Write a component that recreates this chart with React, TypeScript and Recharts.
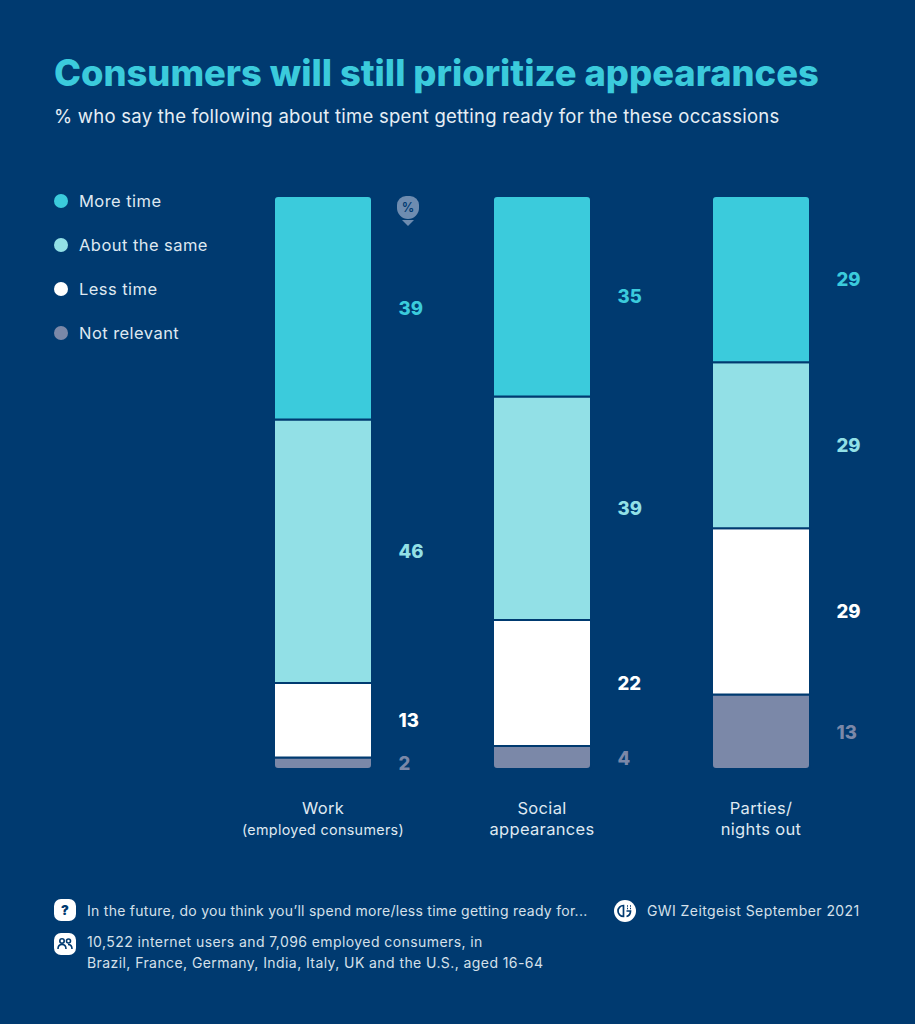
import React from "react";
import { BarChart, Bar, XAxis, YAxis, LabelList, Legend } from "recharts";

const BG = "#003a70";
const categories = ["Work", "Social", "Parties"];
const tickLines: Record<string, { text: string; size: number }[]> = {
  Work: [{ text: "Work", size: 16.5 }, { text: "(employed consumers)", size: 14.3 }],
  Social: [{ text: "Social", size: 16.5 }, { text: "appearances", size: 16.5 }],
  Parties: [{ text: "Parties/", size: 16.5 }, { text: "nights out", size: 16.5 }],
};
const moreTime = [39, 35, 29];
const aboutSame = [46, 39, 29];
const lessTime = [13, 22, 29];
const notRelevant = [2, 4, 13];
const seriesNames = ["More time", "About the same", "Less time", "Not relevant"];
const seriesColors = ["#3bcbdc", "#92e0e6", "#ffffff", "#7b88a8"];
const data = categories.map((c, i) => ({
  name: c,
  more: moreTime[i],
  same: aboutSame[i],
  less: lessTime[i],
  none: notRelevant[i],
}));

const FONT = "Inter, 'Noto Sans', sans-serif";

const ValueLabel = (color: string) => (props: any) => {
  const { x, y, width, height, value } = props;
  return (
    <text x={x + width + 26.5} y={y + height / 2 + 7} fill={color} fontFamily={FONT} fontWeight={800} fontSize={18.5}>
      {value}
    </text>
  );
};

const Tick = (props: any) => {
  const { x, y, payload } = props;
  const lines = tickLines[payload.value] || [];
  return (
    <g>
      {lines.map((l, i) => (
        <text key={i} x={x + 0.5} y={y + 37 + i * 21} textAnchor="middle" fill="#dfe8f1" fontFamily={FONT} fontSize={l.size} letterSpacing={0.33}>
          {l.text}
        </text>
      ))}
    </g>
  );
};

const LegendBox = () => (
  <div style={{ fontFamily: FONT }}>
    {seriesNames.map((n, i) => (
      <div key={n} style={{ position: "absolute", left: 0, top: i * 44, height: 20, display: "flex", alignItems: "center", whiteSpace: "nowrap" }}>
        <span style={{ width: 14, height: 14, borderRadius: 7, background: seriesColors[i], marginRight: 11, display: "inline-block" }} />
        <span style={{ color: "#dfe8f1", fontSize: 16.5, letterSpacing: 0.45 }}>{n}</span>
      </div>
    ))}
  </div>
);

const Foot = ({ left, top, children, spacing = 0.42 }: any) => (
  <div style={{ position: "absolute", left, top, color: "#d5e0ea", fontFamily: FONT, fontSize: 14, letterSpacing: spacing, lineHeight: "21px", whiteSpace: "nowrap" }}>
    {children}
  </div>
);

const Badge = ({ left, top, round, children }: any) => (
  <div style={{ position: "absolute", left, top, width: 22, height: 22, borderRadius: round ? 11 : 7, background: "#fff", color: BG, display: "flex", alignItems: "center", justifyContent: "center", fontFamily: FONT, fontWeight: 900, fontSize: 13 }}>
    {children}
  </div>
);

export default function App() {
  return (
    <div style={{ position: "absolute", left: 0, top: 0, width: 915, height: 1024, background: BG, overflow: "hidden" }}>
      <div style={{ position: "absolute", left: 54, top: 50, color: "#3bcbdc", fontFamily: FONT, fontWeight: 800, fontSize: 36.3, lineHeight: "46px", whiteSpace: "nowrap" }}>
        Consumers will still prioritize appearances
      </div>
      <div style={{ position: "absolute", left: 54, top: 104, color: "#e6eef5", fontFamily: FONT, fontSize: 18.5, letterSpacing: 0.25, lineHeight: "24px", whiteSpace: "nowrap" }}>
        % who say the following about time spent getting ready for the these occassions
      </div>

      <div style={{ position: "absolute", left: 0, top: 0 }}>
        <BarChart width={915} height={1024} data={data} barSize={98} margin={{ top: 196, bottom: 35, left: 213, right: 45 }}>
          <XAxis dataKey="name" height={60} axisLine={false} tickLine={false} interval={0} tick={<Tick />} />
          <YAxis hide domain={[0, 100]} />
          <Legend content={<LegendBox />} wrapperStyle={{ left: 54, top: 191, width: 180, height: 160, bottom: "auto" }} />
          <Bar dataKey="none" name={seriesNames[3]} stackId="a" fill={seriesColors[3]} stroke={BG} strokeWidth={2} radius={[0, 0, 4, 4]} isAnimationActive={false}>
            <LabelList dataKey="none" content={ValueLabel(seriesColors[3])} />
          </Bar>
          <Bar dataKey="less" name={seriesNames[2]} stackId="a" fill={seriesColors[2]} stroke={BG} strokeWidth={2} isAnimationActive={false}>
            <LabelList dataKey="less" content={ValueLabel(seriesColors[2])} />
          </Bar>
          <Bar dataKey="same" name={seriesNames[1]} stackId="a" fill={seriesColors[1]} stroke={BG} strokeWidth={2} isAnimationActive={false}>
            <LabelList dataKey="same" content={ValueLabel(seriesColors[1])} />
          </Bar>
          <Bar dataKey="more" name={seriesNames[0]} stackId="a" fill={seriesColors[0]} stroke={BG} strokeWidth={2} radius={[4, 4, 0, 0]} isAnimationActive={false}>
            <LabelList dataKey="more" content={ValueLabel(seriesColors[0])} />
          </Bar>
        </BarChart>
      </div>

      <div style={{ position: "absolute", left: 397, top: 196, width: 22, height: 23, borderRadius: "9px 9px 11px 11px", background: "#6e8cb0", color: BG, fontFamily: FONT, fontWeight: 600, fontSize: 12.5, display: "flex", alignItems: "center", justifyContent: "center" }}>
        %
      </div>
      <div style={{ position: "absolute", left: 402, top: 220, width: 0, height: 0, borderLeft: "6px solid transparent", borderRight: "6px solid transparent", borderTop: "6px solid #6e8cb0" }} />

      <Badge left={54} top={899}>?</Badge>
      <Foot left={87} top={900} spacing={0.27}>In the future, do you think you’ll spend more/less time getting ready for...</Foot>
      <Badge left={54} top={933}>
        <svg width="16" height="14" viewBox="0 0 16 14" fill="none" stroke={BG} strokeWidth="1.6">
          <circle cx="5" cy="4" r="2.2" />
          <circle cx="11.5" cy="4" r="2" />
          <path d="M1 12c0-3 2-4.5 4-4.5s4 1.5 4 4.5M11 7.5c2 0 4 1.2 4 4.5" />
        </svg>
      </Badge>
      <Foot left={87} top={931}>
        10,522 internet users and 7,096 employed consumers, in
        <br />
        Brazil, France, Germany, India, Italy, UK and the U.S., aged 16-64
      </Foot>
      <Badge left={614} top={900} round>
        <svg width="16" height="16" viewBox="0 0 16 16" fill="none" stroke={BG} strokeWidth="1.7">
          <path d="M6.5 2.5a5.5 5.5 0 1 0 0 11V2.5z" />
          <path d="M9.5 8h4c0 3-2 5-4 5.5" />
          <path d="M10 3h1M13 3h1M10 5.5h1M13 5.5h1" />
        </svg>
      </Badge>
      <Foot left={647} top={900}>GWI Zeitgeist September 2021</Foot>
    </div>
  );
}
